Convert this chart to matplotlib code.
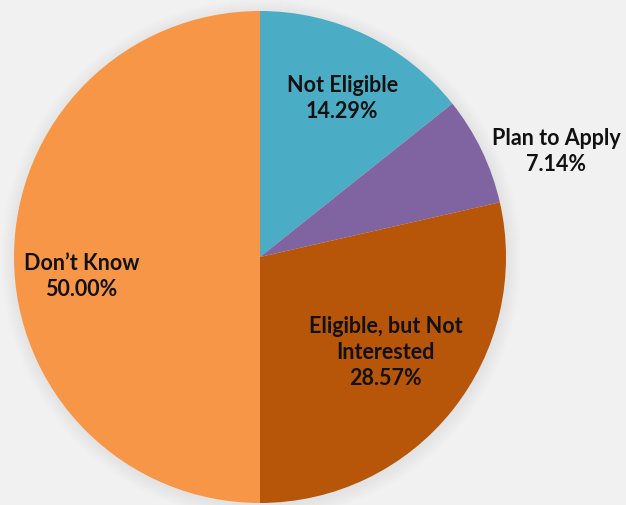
import matplotlib

matplotlib.use("Agg")
import matplotlib.pyplot as plt
import numpy as np
from matplotlib.patches import Circle


CATEGORIES = ["Not Eligible", "Plan to Apply", "Eligible, but Not\nInterested", "Don\u2019t Know"]
SHARES = [14.29, 7.14, 28.57, 50.00]
COLORS = ["#4BACC6", "#8064A2", "#B75508", "#F79646"]
# label placement as (radius fraction, angle in degrees)
LABEL_SPOTS = [(0.73, 62.8), (1.28, 19.8), (0.64, -37.0), (0.73, 186.0)]

RADIUS = 246
BACKGROUND = "#f1f1f1"


def main() -> None:
    """Draw the pie chart and save it to out.png."""
    fig = plt.figure(figsize=(6.26, 5.06), dpi=100, facecolor=BACKGROUND)
    ax = fig.add_axes([0, 0, 1, 1])
    ax.set_facecolor(BACKGROUND)
    ax.axis("off")

    # soft shadow around the pie
    for step in range(14):
        ax.add_patch(Circle((1, -2), RADIUS + 14 - step, color="#a0a0a0", alpha=0.012, lw=0, zorder=0))

    ax.pie(
        SHARES,
        colors=COLORS,
        startangle=90,
        counterclock=False,
        radius=RADIUS,
        wedgeprops={"linewidth": 0},
    )

    for name, share, (frac, angle) in zip(CATEGORIES, SHARES, LABEL_SPOTS):
        theta = np.deg2rad(angle)
        ax.text(
            frac * RADIUS * np.cos(theta),
            frac * RADIUS * np.sin(theta),
            f"{name}\n{share:.2f}%",
            ha="center",
            va="center",
            fontsize=15.5,
            fontweight="bold",
            family=["Lato", "DejaVu Sans"],
            color="#111111",
            linespacing=1.3,
        )

    ax.set_xlim(-260, 366)
    ax.set_ylim(-248, 258)
    ax.set_aspect("equal")

    fig.savefig("out.png", dpi=100, facecolor=BACKGROUND)
    plt.close(fig)


if __name__ == "__main__":
    main()
